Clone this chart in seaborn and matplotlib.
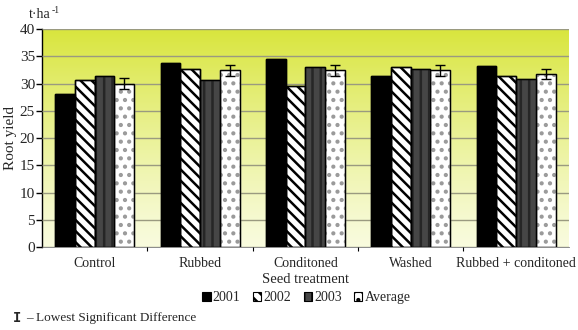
import numpy as np
import pandas as pd
import matplotlib
matplotlib.use("Agg")
import matplotlib.pyplot as plt
import seaborn as sns

treatments = ["Control", "Rubbed", "Conditoned", "Washed", "Rubbed + conditoned"]
years = ["2001", "2002", "2003", "Average"]
yield_2001 = [28.0, 33.8, 34.5, 31.4, 33.2]
yield_2002 = [30.7, 32.7, 29.6, 33.1, 31.3]
yield_2003 = [31.4, 30.7, 33.1, 32.6, 30.9]
yield_avg = [30.0, 32.4, 32.4, 32.4, 31.8]
lsd = [1.0, 1.0, 1.0, 1.0, 0.9]

df = pd.DataFrame({
    "treatment": treatments * 4,
    "year": sum([[y] * len(treatments) for y in years], []),
    "value": yield_2001 + yield_2002 + yield_2003 + yield_avg,
})

sns.set_theme(style="white")
plt.rcParams["font.family"] = ["Liberation Serif", "DejaVu Serif"]
plt.rcParams["hatch.linewidth"] = 1.8

fig = plt.figure(figsize=(5.78, 3.30), dpi=100)
ax = fig.add_axes([0.0727, 0.2515, 0.9113, 0.6605])

faces = ["#000000", "#ffffff", "#464646", "#ffffff"]
hatches = ["", "\\\\\\", "||", ".."]
# hatch strokes take the patch edge colour
hatch_colors = ["black", "black", "#262626", "#9a9a9a"]

sns.barplot(data=df, x="treatment", y="value", hue="year", order=treatments,
            hue_order=years, palette=faces, width=0.75, ax=ax,
            edgecolor="black", linewidth=1.0, saturation=1, legend=True)

series_bars = list(ax.containers)
for cont, h, fc, hc in zip(series_bars, hatches, faces, hatch_colors):
    for p in cont.patches:
        p.set_facecolor(fc)
        p.set_hatch(h)
        p.set_edgecolor(hc)
        p.set_zorder(3)

# black outlines over every bar (hatch colour differs for some series)
for cont in series_bars:
    ps = cont.patches
    ax.bar([p.get_x() for p in ps], [p.get_height() for p in ps],
           width=ps[0].get_width(), align="edge", fill=False,
           edgecolor="black", linewidth=1.0, zorder=4)

# Lowest significant difference on the Average bars
avg_bars = series_bars[3]
xs = [p.get_x() + p.get_width() / 2 for p in avg_bars.patches]
ax.errorbar(xs, yield_avg, yerr=lsd, fmt="none", ecolor="black",
            elinewidth=1.0, capsize=3.5, capthick=1.0, zorder=5)

# Gradient background
grad = np.linspace(0, 1, 256).reshape(-1, 1)
top = np.array([0.85, 0.90, 0.24])
bot = np.array([0.975, 0.985, 0.87])
img = bot + (top - bot) * grad ** 1.2
ax.imshow(img[:, None, :].repeat(2, axis=1), extent=[-0.5, 4.5, 0, 40],
          origin="lower", aspect="auto", zorder=0)

ax.set_xlim(-0.5, 4.5)
ax.set_ylim(0, 40)
ax.set_yticks(np.arange(0, 41, 5))
ax.yaxis.grid(True, color="#9a9a80", linewidth=1.0)
ax.set_axisbelow(False)
for gl in ax.get_ygridlines():
    gl.set_zorder(1)

for s in ["top", "right"]:
    ax.spines[s].set_visible(False)
ax.spines["left"].set_color("black")
ax.spines["left"].set_linewidth(1.0)
ax.spines["bottom"].set_color("#777777")
ax.spines["bottom"].set_linewidth(0.6)

ax.tick_params(axis="y", which="major", left=True, length=4, width=1,
               color="black", labelsize=11, pad=1)
ax.tick_params(axis="x", which="major", bottom=False, labelsize=10, pad=1)
ax.set_xticks(np.arange(0.5, 4.5, 1.0), minor=True)
ax.tick_params(axis="x", which="minor", bottom=True, length=3, width=0.8,
               color="black")

ax.set_xlabel("Seed treatment", fontsize=10.5, labelpad=2)
ax.set_ylabel("Root yield", fontsize=11, labelpad=2)

# unit label above the y axis
unit = fig.text(0.05, 0.955, "t·ha", fontsize=10, ha="left", va="center")
ax.annotate("-1", xy=(1, 0.5), xycoords=unit, xytext=(0.5, 0),
            textcoords="offset points", fontsize=7, ha="left", va="bottom")

leg = ax.legend(loc="center", bbox_to_anchor=(0.53, 0.098), bbox_transform=fig.transFigure,
                ncol=4, frameon=False, fontsize=10, handlelength=0.6,
                handleheight=0.6, handletextpad=0.15, columnspacing=0.9)
for h, hp, fc in zip(leg.legend_handles, hatches, faces):
    h.set_facecolor(fc)
    h.set_hatch(hp)
    h.set_edgecolor("black")
    h.set_linewidth(0.8)

fig.text(0.022, 0.036, "I", fontsize=10, ha="left", va="center",
         family=["DejaVu Sans Mono"], fontweight="bold")
fig.text(0.045, 0.036, "– Lowest Significant Difference", fontsize=9.5,
         ha="left", va="center")

fig.savefig("out.png", dpi=100)
